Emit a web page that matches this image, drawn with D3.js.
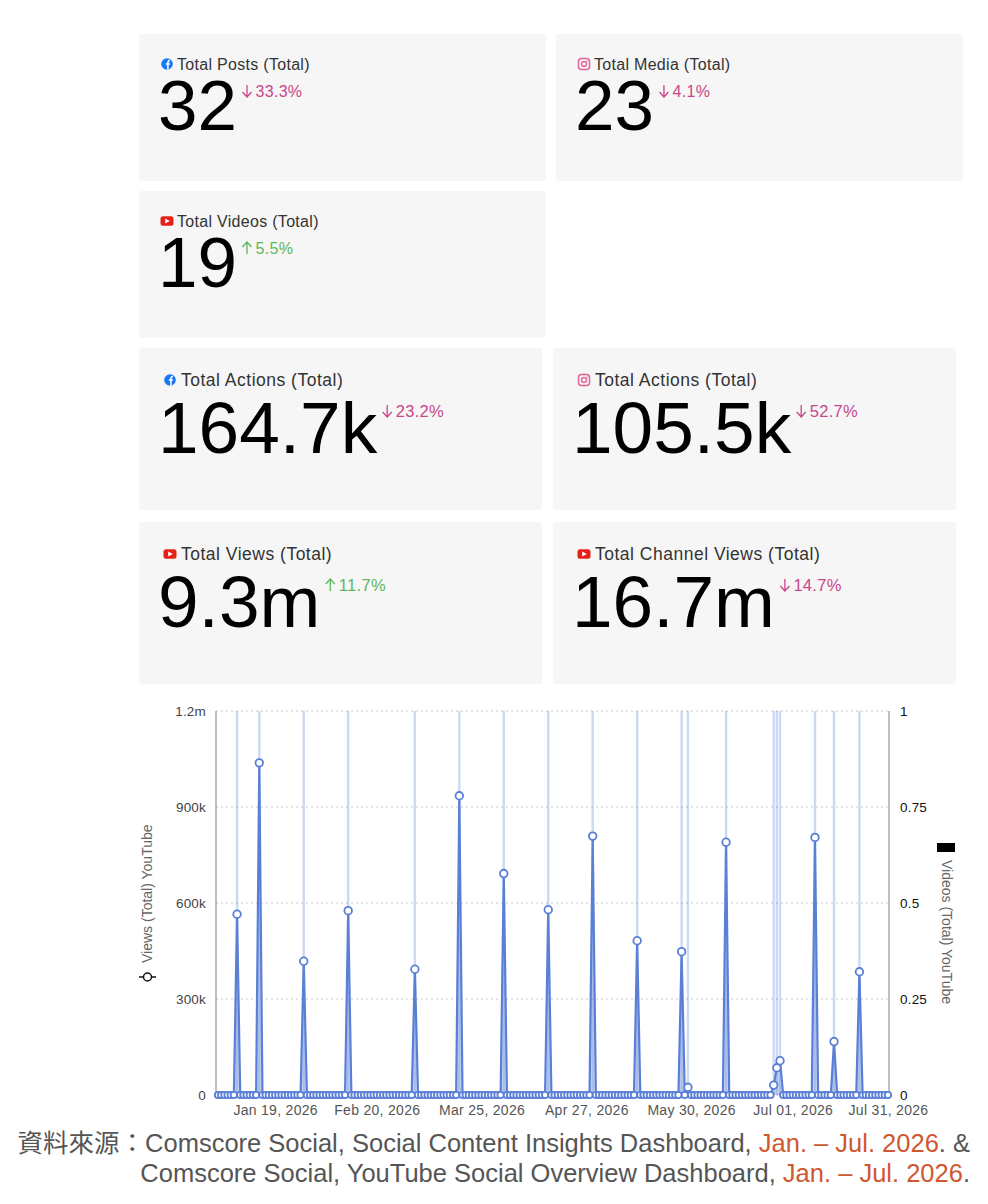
<!DOCTYPE html>
<html>
<head>
<meta charset="utf-8">
<script src="https://cdn.jsdelivr.net/npm/d3@7/dist/d3.min.js"></script>
<style>
  body { margin: 0; background: #fff; }
  svg { display: block; font-family: "Liberation Sans", Arial, "Noto Sans CJK TC", sans-serif; }
</style>
</head>
<body>
<svg id="D3Container"></svg>
<script>

// Summary cards

const cardLabels = [
  "Total Posts (Total)", "Total Media (Total)", "Total Videos (Total)",
  "Total Actions (Total)", "Total Actions (Total)",
  "Total Views (Total)", "Total Channel Views (Total)"
];
const cardPlatforms = ["facebook", "instagram", "youtube", "facebook", "instagram", "youtube", "youtube"];
const cardValues = ["32", "23", "19", "164.7k", "105.5k", "9.3m", "16.7m"];
const cardChanges = [-33.3, -4.1, 5.5, -23.2, -52.7, 11.7, -14.7];

// Daily YouTube series, Jan 1 - Jul 31 2026 (all other days are zero)

const videoDates = [
  "2026-01-07", "2026-01-14", "2026-01-28", "2026-02-11", "2026-03-04",
  "2026-03-18", "2026-04-01", "2026-04-15", "2026-04-29", "2026-05-13",
  "2026-05-27", "2026-05-29", "2026-06-10", "2026-06-25", "2026-06-26",
  "2026-06-27", "2026-07-08", "2026-07-14", "2026-07-22"
];
const viewsValues = [
  565000, 1038000, 418000, 576000, 393000,
  935000, 692000, 579000, 809000, 482000,
  448000, 24000, 790000, 31000, 85000,
  107000, 805000, 167000, 385000
];
const videosValues = [1, 1, 1, 1, 1, 1, 1, 1, 1, 1, 1, 1, 1, 1, 1, 1, 1, 1, 1];

const xTickDates = ["2026-01-19", "2026-02-20", "2026-03-25", "2026-04-27", "2026-05-30", "2026-07-01", "2026-07-31"];
const leftTicks = [0, 300000, 600000, 900000, 1200000];
const leftTickLabels = ["0", "300k", "600k", "900k", "1.2m"];
const rightTicks = [0, 0.25, 0.5, 0.75, 1];

const LINE_BLUE = "#5a7fd6";
const PINK = "#c8478a";
const GREEN = "#5cb85c";
const ORANGE = "#d0572f";

const svg = d3.select("#D3Container")
  .attr("width", 988)
  .attr("height", 1204);

// ---------- cards ----------

const small = {labelSize: 16, labelSpacing: 0.3, labelY: 36, iconX: 28, labelX: 38, numX: 19, numY: 96, numSize: 71, deltaY: 63, deltaSize: 16};
const large = {labelSize: 17.5, labelSpacing: 0.5, labelY: 38, iconX: 31, labelX: 42, numX: 19, numY: 105, numSize: 73, deltaY: 69, deltaSize: 16.5};

const cardBoxes = [
  {x: 139, y: 34, w: 407, h: 147, s: small},
  {x: 556, y: 34, w: 407, h: 147, s: small},
  {x: 139, y: 191, w: 407, h: 147, s: small},
  {x: 139, y: 348, w: 403, h: 162, s: large},
  {x: 553, y: 348, w: 403, h: 162, s: large},
  {x: 139, y: 522, w: 403, h: 162, s: large},
  {x: 553, y: 522, w: 403, h: 162, s: large}
];

function drawIcon(g, kind, cx, cy) {

  if (kind === "facebook") {
    g.append("circle").attr("cx", cx).attr("cy", cy).attr("r", 5.8).attr("fill", "#1877f2");
    // small white "f"
    g.append("path")
      .attr("d", `M${cx + 0.9},${cy + 5.8}V${cy - 1.2}Q${cx + 0.9},${cy - 3.4} ${cx + 3},${cy - 3.4}`
        + `M${cx - 1.2},${cy}H${cx + 2.8}`)
      .attr("fill", "none").attr("stroke", "#fff").attr("stroke-width", 1.5);
  } else if (kind === "instagram") {
    g.append("rect").attr("x", cx - 5.5).attr("y", cy - 5.5).attr("width", 11).attr("height", 11)
      .attr("rx", 3).attr("fill", "none").attr("stroke", "#e0649a").attr("stroke-width", 1.5);
    g.append("circle").attr("cx", cx).attr("cy", cy).attr("r", 2.5)
      .attr("fill", "none").attr("stroke", "#e0649a").attr("stroke-width", 1.4);
    g.append("circle").attr("cx", cx + 3).attr("cy", cy - 3).attr("r", 0.7).attr("fill", "#e0649a");
  } else {
    g.append("rect").attr("x", cx - 6.5).attr("y", cy - 4.8).attr("width", 13).attr("height", 9.6)
      .attr("rx", 2.5).attr("fill", "#e62117");
    g.append("path").attr("d", `M${cx - 1.8},${cy - 2.6}L${cx + 2.8},${cy}L${cx - 1.8},${cy + 2.6}Z`)
      .attr("fill", "#fff");
  }
}

cardBoxes.forEach((b, i) => {

  const s = b.s;
  const g = svg.append("g").attr("transform", `translate(${b.x},${b.y})`);

  g.append("rect").attr("width", b.w).attr("height", b.h).attr("rx", 3).attr("fill", "#f6f6f6");

  drawIcon(g, cardPlatforms[i], s.iconX, s.labelY - 6);

  g.append("text")
    .attr("x", s.labelX).attr("y", s.labelY)
    .attr("font-size", s.labelSize).attr("letter-spacing", s.labelSpacing).attr("fill", "#333")
    .text(cardLabels[i]);

  const num = g.append("text")
    .attr("x", s.numX).attr("y", s.numY)
    .attr("font-size", s.numSize).attr("fill", "#000")
    .text(cardValues[i]);

  const numEnd = s.numX + num.node().getComputedTextLength();
  const up = cardChanges[i] > 0;
  const colour = up ? GREEN : PINK;

  // thin arrow drawn as a path, then the percentage

  const ax = numEnd + 10, ay = s.deltaY, ah = 12;
  const arrow = up
    ? `M${ax},${ay}V${ay - ah}M${ax - 4.5},${ay - ah + 5}L${ax},${ay - ah}L${ax + 4.5},${ay - ah + 5}`
    : `M${ax},${ay - ah}V${ay}M${ax - 4.5},${ay - 5}L${ax},${ay}L${ax + 4.5},${ay - 5}`;
  g.append("path").attr("d", arrow)
    .attr("fill", "none").attr("stroke", colour).attr("stroke-width", 1.3);

  g.append("text")
    .attr("x", ax + 8.5).attr("y", s.deltaY)
    .attr("font-size", s.deltaSize).attr("letter-spacing", 0.3)
    .attr("fill", colour)
    .text(Math.abs(cardChanges[i]).toFixed(1) + "%");
});

// ---------- chart ----------

const parseDate = d3.timeParse("%Y-%m-%d");
const start = parseDate("2026-01-01");
const end = parseDate("2026-07-31");

const viewsByDay = new Map(videoDates.map((d, i) => [d, viewsValues[i]]));
const formatKey = d3.timeFormat("%Y-%m-%d");

const daily = d3.timeDay.range(start, d3.timeDay.offset(end, 1)).map(d => ({
  date: d,
  views: viewsByDay.get(formatKey(d)) || 0
}));

const videos = videoDates.map((d, i) => ({date: parseDate(d), count: videosValues[i]}));

const plotLeft = 216, plotRight = 889, plotTop = 711, plotBottom = 1095;

const x = d3.scaleTime().domain([start, end]).range([218, 888]);
const yLeft = d3.scaleLinear().domain([0, 1200000]).range([plotBottom, plotTop]);
const yRight = d3.scaleLinear().domain([0, 1]).range([plotBottom, plotTop]);

const chart = svg.append("g");

// dotted gridlines

chart.selectAll(".grid").data(leftTicks).enter()
  .append("line")
  .attr("x1", plotLeft).attr("x2", plotRight)
  .attr("y1", d => yLeft(d)).attr("y2", d => yLeft(d))
  .attr("stroke", "#c8c8c8").attr("stroke-dasharray", "2,3");

// video bars (right axis)

chart.selectAll(".bar").data(videos).enter()
  .append("rect")
  .attr("x", d => x(d.date) - 1.2)
  .attr("width", 2.4)
  .attr("y", d => yRight(d.count))
  .attr("height", d => yRight(0) - yRight(d.count))
  .attr("fill", LINE_BLUE).attr("fill-opacity", 0.3);

// axis lines

chart.append("line").attr("x1", plotLeft).attr("x2", plotLeft).attr("y1", plotTop).attr("y2", plotBottom)
  .attr("stroke", "#aaa").attr("stroke-width", 1.5);
chart.append("line").attr("x1", plotRight).attr("x2", plotRight).attr("y1", plotTop).attr("y2", plotBottom)
  .attr("stroke", "#aaa").attr("stroke-width", 1.5);

// views area + line + points

const area = d3.area().x(d => x(d.date)).y0(yLeft(0)).y1(d => yLeft(d.views));
const line = d3.line().x(d => x(d.date)).y(d => yLeft(d.views));

chart.append("path").datum(daily).attr("d", area).attr("fill", LINE_BLUE).attr("fill-opacity", 0.3);
chart.append("path").datum(daily).attr("d", line)
  .attr("fill", "none").attr("stroke", LINE_BLUE).attr("stroke-width", 2.2);

chart.selectAll(".pt").data(daily).enter()
  .append("circle")
  .attr("cx", d => x(d.date)).attr("cy", d => yLeft(d.views))
  .attr("r", d => d.views > 0 ? 3.8 : 3.2)
  .attr("fill", "#fff").attr("stroke", LINE_BLUE).attr("stroke-width", 1.8);

// axes

const leftAxis = d3.axisLeft(yLeft).tickValues(leftTicks).tickSize(0).tickPadding(10)
  .tickFormat((d, i) => leftTickLabels[i]);
const la = chart.append("g").attr("transform", `translate(${plotLeft},0)`).call(leftAxis);

const rightAxis = d3.axisRight(yRight).tickValues(rightTicks).tickSize(0).tickPadding(11)
  .tickFormat(d => d3.format("")(d));
const ra = chart.append("g").attr("transform", `translate(${plotRight},0)`).call(rightAxis);

const bottomAxis = d3.axisBottom(x).tickValues(xTickDates.map(parseDate)).tickSize(0).tickPadding(10)
  .tickFormat(d3.timeFormat("%b %d, %Y"));
const ba = chart.append("g").attr("transform", `translate(0,${plotBottom})`).call(bottomAxis);

[la, ra, ba].forEach(a => {
  a.select(".domain").remove();
  a.selectAll("text").attr("font-family", "Liberation Sans, Arial, sans-serif")
    .attr("font-size", 13.5).attr("letter-spacing", 0.2);
});
ba.selectAll("text").attr("font-size", 14).attr("letter-spacing", 0.3);
la.selectAll("text").attr("fill", "#444");
ra.selectAll("text").attr("fill", "#111");
ba.selectAll("text").attr("fill", "#555");

// axis legends

chart.append("line").attr("x1", 139).attr("x2", 156).attr("y1", 977).attr("y2", 977)
  .attr("stroke", "#111").attr("stroke-width", 1.5);
chart.append("circle").attr("cx", 147.5).attr("cy", 977).attr("r", 4)
  .attr("fill", "#fff").attr("stroke", "#111").attr("stroke-width", 1.5);
chart.append("text")
  .attr("transform", "translate(152,963) rotate(-90)")
  .attr("font-size", 14).attr("fill", "#666")
  .text("Views (Total) YouTube");

chart.append("rect").attr("x", 937).attr("y", 843).attr("width", 18).attr("height", 9).attr("fill", "#000");
chart.append("text")
  .attr("transform", "translate(942,860) rotate(90)")
  .attr("font-size", 14).attr("fill", "#666")
  .text("Videos (Total) YouTube");

// ---------- source footer ----------

const footerLines = [
  {y: 1152, parts: [["資料來源：Comscore Social, Social Content Insights Dashboard, ", "#555"], ["Jan. – Jul. 2026", ORANGE], [". &", "#555"]]},
  {y: 1182, parts: [["Comscore Social, YouTube Social Overview Dashboard, ", "#555"], ["Jan. – Jul. 2026", ORANGE], [".", "#555"]]}
];

footerLines.forEach(l => {
  const t = svg.append("text")
    .attr("x", 970).attr("y", l.y)
    .attr("text-anchor", "end")
    .attr("font-size", 25.5);
  l.parts.forEach(p => t.append("tspan").attr("fill", p[1]).text(p[0]));
});

</script>
</body>
</html>
